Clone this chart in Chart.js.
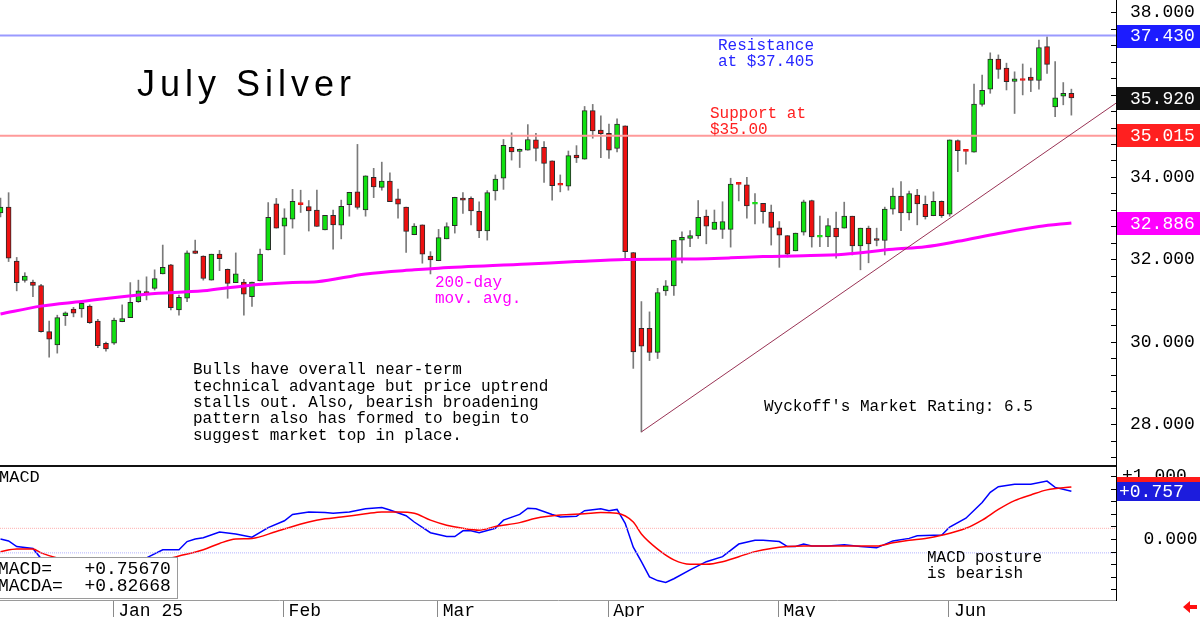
<!DOCTYPE html>
<html>
<head>
<meta charset="utf-8">
<script src="https://cdn.jsdelivr.net/npm/chart.js@4.4.1/dist/chart.umd.min.js"></script>
<style>
  body { margin: 0; background: #fff; width: 1200px; height: 617px; overflow: hidden; position: relative; }
  canvas { position: absolute; left: 0; }
  #price { top: 0; }
  #macd { top: 465px; }
</style>
</head>
<body>
<canvas id="price" width="1200" height="465"></canvas>
<canvas id="macd" width="1200" height="152"></canvas>
<script>
// --- daily July silver candles, one per trading day (index 0 = mid Dec 2024) ---
const opens = [
  33.13, 33.27, 31.96, 31.49, 31.45, 31.37, 30.25, 29.93, 30.64, 30.80,
  30.80, 30.87, 30.51, 29.97, 29.97, 30.49, 30.59, 30.98, 31.22, 31.30,
  31.65, 31.87, 30.78, 31.06, 32.21, 32.08, 31.50, 32.13, 31.76, 31.44,
  31.45, 31.10, 31.48, 32.23, 33.35, 32.81, 32.98, 33.35, 33.28, 33.20,
  32.72, 33.07, 32.83, 33.33, 33.64, 33.20, 33.99, 33.75, 33.90, 33.47,
  33.27, 32.60, 32.84, 32.08, 31.97, 32.50, 32.82, 33.49, 33.48, 33.17,
  32.69, 33.66, 33.97, 34.72, 34.62, 34.65, 34.90, 34.72, 34.39, 33.82,
  33.78, 34.53, 34.43, 35.61, 35.14, 35.06, 34.69, 35.24, 32.17, 30.33,
  30.33, 29.75, 31.24, 31.36, 32.47, 32.51, 32.57, 33.05, 32.73, 32.73,
  32.73, 33.84, 33.81, 33.34, 33.36, 33.15, 32.77, 32.58, 32.21, 32.66,
  33.43, 32.54, 32.55, 32.76, 32.76, 33.05, 32.33, 32.76, 32.51, 32.46,
  33.22, 33.54, 33.13, 33.56, 33.34, 33.06, 33.41, 33.10, 34.88, 34.65,
  34.60, 35.76, 36.13, 36.86, 36.64, 36.32, 36.38, 36.42, 36.34, 37.16,
  35.70, 35.96, 36.03
];
const highs = [
  33.49, 33.62, 32.05, 31.68, 31.50, 31.40, 30.51, 30.65, 30.73, 30.84,
  30.96, 30.90, 30.55, 30.00, 30.58, 30.90, 31.44, 31.50, 31.58, 31.75,
  32.35, 31.88, 31.14, 32.21, 32.47, 32.09, 32.13, 32.22, 31.77, 32.16,
  31.52, 31.45, 32.25, 33.38, 33.48, 33.23, 33.70, 33.68, 33.43, 33.68,
  33.07, 33.20, 33.44, 33.63, 34.79, 34.03, 34.21, 34.36, 34.10, 33.71,
  33.27, 32.87, 32.84, 32.19, 32.73, 32.89, 33.51, 33.62, 33.52, 33.40,
  33.67, 34.05, 34.91, 35.07, 34.68, 35.27, 35.06, 34.86, 34.39, 34.05,
  34.63, 34.76, 35.71, 35.76, 35.48, 35.28, 35.41, 35.24, 32.17, 30.98,
  30.73, 31.30, 31.49, 32.47, 32.67, 32.70, 33.43, 33.20, 33.20, 33.40,
  33.97, 33.85, 33.99, 33.60, 33.36, 33.32, 32.92, 32.58, 32.64, 33.44,
  33.44, 33.05, 32.99, 33.15, 33.39, 33.05, 32.76, 32.81, 32.76, 33.27,
  33.73, 33.89, 33.66, 33.70, 33.54, 33.64, 33.42, 34.90, 34.90, 34.66,
  36.25, 36.47, 37.01, 36.96, 36.76, 36.55, 36.74, 36.64, 37.32, 37.40,
  36.80, 36.29, 36.13
];
const lows = [
  33.03, 31.95, 31.24, 31.45, 31.10, 30.24, 29.63, 29.73, 30.40, 30.61,
  30.60, 30.45, 29.86, 29.78, 29.94, 30.49, 30.59, 30.96, 31.02, 31.26,
  31.65, 30.78, 30.65, 30.98, 32.14, 31.50, 31.50, 31.73, 31.06, 31.44,
  30.65, 30.86, 31.48, 32.23, 32.76, 32.12, 32.76, 33.14, 32.69, 32.80,
  32.72, 32.25, 32.50, 33.05, 33.22, 33.05, 33.50, 33.68, 33.40, 33.00,
  32.17, 32.60, 31.91, 31.65, 31.97, 32.50, 32.64, 33.12, 32.84, 32.53,
  32.47, 33.44, 33.70, 34.41, 34.23, 34.65, 34.39, 33.87, 33.44, 33.64,
  33.68, 34.35, 34.43, 34.94, 34.47, 34.45, 34.61, 32.03, 29.36, 27.82,
  29.55, 29.60, 31.13, 31.13, 31.92, 32.31, 32.51, 32.38, 32.73, 32.51,
  32.30, 33.42, 33.00, 32.86, 32.88, 32.35, 31.81, 32.06, 32.21, 32.59,
  32.30, 32.31, 32.31, 32.03, 32.76, 32.11, 31.75, 31.92, 32.33, 32.11,
  33.10, 32.70, 32.96, 32.84, 32.98, 33.06, 33.02, 33.05, 34.13, 34.31,
  34.60, 35.72, 36.03, 36.39, 36.11, 35.54, 35.99, 36.07, 36.13, 36.51,
  35.46, 35.75, 35.50
];
const closes = [
  33.27, 32.03, 31.44, 31.60, 31.37, 30.25, 30.07, 30.59, 30.71, 30.70,
  30.94, 30.47, 29.91, 29.83, 30.53, 30.57, 30.96, 31.24, 31.15, 31.54,
  31.81, 30.83, 31.08, 32.16, 32.15, 31.54, 32.13, 32.02, 31.42, 31.65,
  31.16, 31.45, 32.13, 33.02, 32.76, 33.01, 33.41, 33.33, 33.18, 32.80,
  33.07, 32.84, 33.29, 33.63, 33.26, 34.03, 33.76, 33.90, 33.40, 33.34,
  32.68, 32.81, 32.13, 31.99, 32.53, 32.80, 33.51, 33.44, 33.18, 32.69,
  33.62, 33.95, 34.77, 34.61, 34.67, 34.91, 34.69, 34.33, 33.79, 33.80,
  34.52, 34.46, 35.61, 35.12, 35.05, 34.65, 35.28, 32.19, 29.76, 29.90,
  29.75, 31.20, 31.36, 32.47, 32.54, 32.58, 33.02, 32.81, 32.91, 32.92,
  33.83, 33.82, 33.30, 33.36, 33.16, 32.78, 32.59, 32.13, 32.64, 33.40,
  32.55, 32.56, 32.82, 32.55, 33.05, 32.33, 32.76, 32.38, 32.46, 33.22,
  33.54, 33.13, 33.60, 33.35, 33.04, 33.41, 33.06, 34.90, 34.64, 34.62,
  35.77, 36.10, 36.86, 36.61, 36.31, 36.38, 36.34, 36.34, 37.14, 36.73,
  35.92, 36.03, 35.92
];

// 200-day moving average, read at these candle indexes
const maIdx = [0, 5, 10, 18, 25, 30, 36, 39, 45, 51, 54, 65, 71, 77, 84, 90, 94, 99, 104, 110, 114, 118, 123, 128, 132];
const maVal = [30.68, 30.87, 30.98, 31.16, 31.24, 31.36, 31.44, 31.46, 31.65, 31.75, 31.79, 31.89, 31.95, 32.00, 32.01,
               32.04, 32.07, 32.09, 32.13, 32.25, 32.31, 32.44, 32.63, 32.80, 32.886];

// MACD (blue) and MACDA signal (red)
const macdIdx = [0, 1, 2, 4, 5, 6, 8, 10, 12, 14, 16, 18, 20, 22, 23, 24, 25, 27, 29, 31, 33, 35, 36, 38, 40, 41, 43, 45, 47, 48,
  50, 51, 53, 55, 56, 57, 58, 59, 61, 62, 64, 65, 66, 68, 69, 71, 72, 74, 75, 76, 77, 78, 79, 80, 81, 82, 83, 85, 87, 89,
  91, 93, 94, 96, 97, 98, 99, 100, 102, 104, 106, 108, 110, 112, 113, 115, 116, 117, 119, 121, 122, 123, 125, 127, 129, 130, 132];
const macdVal = [0.00, -0.03, -0.12, -0.15, -0.31, -0.38, -0.45, -0.50, -0.50, -0.45, -0.38, -0.30, -0.17, -0.17, -0.04, 0.00, 0.02, 0.11, 0.08, 0.03,
  0.18, 0.29, 0.39, 0.43, 0.42, 0.41, 0.43, 0.48, 0.50, 0.46, 0.37, 0.27, 0.10, 0.04, 0.04, 0.13, 0.13, 0.10, 0.17, 0.30,
  0.39, 0.49, 0.48, 0.39, 0.35, 0.36, 0.45, 0.48, 0.45, 0.47, 0.25, -0.13, -0.36, -0.60, -0.66, -0.69, -0.63, -0.49, -0.36, -0.28,
  -0.08, -0.02, -0.02, -0.04, -0.12, -0.12, -0.08, -0.11, -0.11, -0.09, -0.12, -0.14, -0.03, 0.01, 0.05, 0.06, 0.06, 0.19, 0.33, 0.58,
  0.74, 0.83, 0.87, 0.87, 0.92, 0.82, 0.757];
const signalIdx = [0, 2, 4, 5, 7, 9, 12, 15, 18, 21, 22, 25, 27, 29, 31, 34, 38, 40, 42, 45, 47, 49, 51, 53, 55, 57, 59, 61, 64, 66,
  69, 72, 74, 76, 78, 79, 81, 83, 85, 87, 89, 91, 93, 95, 97, 99, 102, 106, 108, 110, 112, 114, 116, 119, 121, 123, 125, 127, 129, 132];
const signalVal = [-0.20, -0.16, -0.16, -0.22, -0.30, -0.34, -0.36, -0.35, -0.32, -0.30, -0.27, -0.17, -0.07, 0.00, 0.01, 0.12, 0.27, 0.32, 0.35, 0.40,
  0.43, 0.43, 0.41, 0.30, 0.22, 0.17, 0.14, 0.20, 0.26, 0.33, 0.38, 0.40, 0.42, 0.41, 0.27, 0.08, -0.16, -0.33, -0.40, -0.40,
  -0.36, -0.28, -0.20, -0.15, -0.12, -0.11, -0.11, -0.11, -0.11, -0.06, -0.02, 0.01, 0.06, 0.17, 0.30, 0.47, 0.61, 0.70, 0.78, 0.827];
const macdReadout = ['MACD=   +0.75670', 'MACDA=  +0.82668'];

// levels and trendline
const resistanceLevel = 37.43;
const supportLevel = 35.0;
const supportTag = 35.015;
const trendIdx = [79, 137.5];
const trendVal = [27.82, 35.79];
const macdRefLevels = [0.17, -0.22];

// month axis
const monthStarts = [14, 35, 54, 75, 96, 117];
const monthLabels = ['Jan 25', 'Feb', 'Mar', 'Apr', 'May', 'Jun'];

const MONO = '"Liberation Mono", "DejaVu Sans Mono", monospace';
const X_MIN = -0.06, X_MAX = 137.5;
const RIGHT_AXIS_W = 84;

const idx = opens.map((_, i) => i);
const up = i => closes[i] >= opens[i];
const doji = i => Math.abs(closes[i] - opens[i]) < 0.04;
const bodyFill = idx.map(i => up(i) ? '#10e010' : '#ee1010');
const bodyEdge = idx.map(i => doji(i) ? bodyFill[i] : '#2a2a2a');
const pts = (xs, ys) => xs.map((x, k) => ({ x: x, y: ys[k] }));

function fixAxis(width, height) {
  return function (scale) {
    if (width) scale.width = width;
    if (height) scale.height = height;
    scale.paddingTop = 0; scale.paddingBottom = 0;
    scale.paddingLeft = 0; scale.paddingRight = 0;
  };
}

function tag(ctx, text, y, bg, x0) {
  ctx.fillStyle = bg;
  ctx.fillRect(x0 + 1, Math.round(y) - 11, 1200 - x0, 23);
  ctx.fillStyle = '#fff';
  ctx.font = '18px ' + MONO;
  ctx.textBaseline = 'middle';
  ctx.textAlign = 'left';
  ctx.fillText(text, 1130, y + 1);
}

function write(ctx, lines, x, y, step, color, font) {
  ctx.fillStyle = color;
  ctx.font = font;
  ctx.textBaseline = 'middle';
  ctx.textAlign = 'left';
  lines.forEach((s, k) => ctx.fillText(s, x, y + k * step));
}

// --- price panel decorations ---
const priceDecor = {
  id: 'priceDecor',
  afterDraw(chart) {
    const { ctx, chartArea, scales: { y } } = chart;
    ctx.save();
    ctx.strokeStyle = '#000';
    ctx.lineWidth = 1;
    for (let v = 27.2; v < 38.05; v += 0.4) {
      const py = Math.round(y.getPixelForValue(v)) + 0.5;
      ctx.beginPath();
      ctx.moveTo(chartArea.right - 5, py);
      ctx.lineTo(chartArea.right, py);
      ctx.stroke();
    }
    tag(ctx, resistanceLevel.toFixed(3), y.getPixelForValue(resistanceLevel), '#1c1cff', chartArea.right);
    tag(ctx, closes[closes.length - 1].toFixed(3), y.getPixelForValue(closes[closes.length - 1]), '#111', chartArea.right);
    tag(ctx, supportTag.toFixed(3), y.getPixelForValue(supportTag), '#ff2020', chartArea.right);
    tag(ctx, maVal[maVal.length - 1].toFixed(3), y.getPixelForValue(maVal[maVal.length - 1]), '#ff00ff', chartArea.right);

    ctx.letterSpacing = '5px';
    write(ctx, ['July Silver'], 137, 86, 0, '#000', '36px "Liberation Sans", Arial, sans-serif');
    ctx.letterSpacing = '0px';
    write(ctx, ['Resistance', 'at $37.405'], 718, 46, 16, '#2626ff', '16px ' + MONO);
    write(ctx, ['Support at', '$35.00'], 710, 114, 16, '#ff2020', '16px ' + MONO);
    write(ctx, ['200-day', 'mov. avg.'], 435, 283, 16, '#ff00ff', '16px ' + MONO);
    write(ctx, [
      'Bulls have overall near-term',
      'technical advantage but price uptrend',
      'stalls out. Also, bearish broadening',
      'pattern also has formed to begin to',
      'suggest market top in place.'
    ], 193, 370, 16.4, '#000', '16px ' + MONO);
    write(ctx, ["Wyckoff's Market Rating: 6.5"], 764, 407, 0, '#000', '16px ' + MONO);
    ctx.restore();
  }
};

new Chart(document.getElementById('price'), {
  type: 'bar',
  data: {
    datasets: [
      {
        label: 'wick',
        data: idx.map(i => ({ x: i, y: [lows[i], highs[i]] })),
        backgroundColor: '#7a7a7a',
        barThickness: 1,
        grouped: false,
        order: 6
      },
      {
        label: 'body',
        data: idx.map(i => ({ x: i, y: [opens[i], closes[i]] })),
        backgroundColor: bodyFill,
        borderColor: bodyEdge,
        borderWidth: 1,
        borderSkipped: false,
        barThickness: 5,
        minBarLength: 2,
        grouped: false,
        order: 5
      },
      {
        type: 'line',
        label: '200-day',
        data: pts(maIdx, maVal),
        borderColor: '#ff00ff',
        borderWidth: 3,
        pointRadius: 0,
        cubicInterpolationMode: 'monotone',
        order: 2
      },
      {
        type: 'line',
        label: 'resistance',
        data: pts([X_MIN, X_MAX], [resistanceLevel, resistanceLevel]),
        borderColor: '#9a9aff',
        borderWidth: 2,
        pointRadius: 0,
        order: 3
      },
      {
        type: 'line',
        label: 'support',
        data: pts([X_MIN, X_MAX], [supportLevel, supportLevel]),
        borderColor: '#ff9a9a',
        borderWidth: 2,
        pointRadius: 0,
        order: 3
      },
      {
        type: 'line',
        label: 'trend',
        data: pts(trendIdx, trendVal),
        borderColor: '#993355',
        borderWidth: 1,
        pointRadius: 0,
        order: 1
      }
    ]
  },
  options: {
    responsive: false,
    animation: false,
    layout: { padding: 0 },
    plugins: { legend: { display: false }, tooltip: { enabled: false } },
    scales: {
      x: {
        type: 'linear', min: X_MIN, max: X_MAX, offset: false,
        display: false, grid: { offset: false }
      },
      y: {
        position: 'right', min: 27.018, max: 38.291,
        afterBuildTicks: s => { s.ticks = [28, 30, 32, 34, 36, 38].map(v => ({ value: v })); },
        afterFit: fixAxis(RIGHT_AXIS_W, 0),
        ticks: {
          padding: 14, color: '#000',
          font: { family: MONO, size: 18 },
          callback: v => v.toFixed(3)
        },
        grid: { drawOnChartArea: false, drawTicks: false },
        border: { display: true, color: '#000', width: 1 }
      }
    }
  },
  plugins: [priceDecor]
});

// --- MACD panel decorations ---
const macdDecor = {
  id: 'macdDecor',
  afterDraw(chart) {
    const { ctx, chartArea, scales: { y } } = chart;
    ctx.save();
    // panel separator
    ctx.fillStyle = '#111';
    ctx.fillRect(0, 0, chartArea.right, 2);
    ctx.strokeStyle = '#000';
    ctx.lineWidth = 1;
    for (let v = -0.8; v < 1.05; v += 0.2) {
      const py = Math.round(y.getPixelForValue(v)) + 0.5;
      ctx.beginPath();
      ctx.moveTo(chartArea.right - 5, py);
      ctx.lineTo(chartArea.right, py);
      ctx.stroke();
    }
    const lastSig = signalVal[signalVal.length - 1];
    const lastMacd = macdVal[macdVal.length - 1];
    ctx.fillStyle = '#ff1a1a';
    ctx.fillRect(chartArea.right + 1, Math.round(y.getPixelForValue(lastSig)) - 10, 200, 20);
    ctx.fillStyle = '#1c1cdd';
    ctx.fillRect(chartArea.right + 1, Math.round(y.getPixelForValue(lastMacd)) - 9, 200, 19);
    ctx.fillStyle = '#fff';
    ctx.font = '18px ' + MONO;
    ctx.textBaseline = 'middle';
    ctx.fillText('+' + lastMacd.toFixed(3), 1119, y.getPixelForValue(lastMacd) + 1);

    // readout box
    ctx.fillStyle = '#fff';
    ctx.fillRect(-1, 92, 179, 41);
    ctx.strokeStyle = '#9a9a9a';
    ctx.strokeRect(-0.5, 92.5, 178, 41);
    write(ctx, macdReadout, -2, 104, 17, '#000', '18px ' + MONO);
    write(ctx, ['MACD'], -1, 12, 0, '#000', '17px ' + MONO);
    write(ctx, ['MACD posture', 'is bearish'], 927, 93, 16, '#000', '16px ' + MONO);

    // red arrow bottom right
    ctx.fillStyle = '#ff1010';
    ctx.beginPath();
    ctx.moveTo(1183, 142);
    ctx.lineTo(1190, 136);
    ctx.lineTo(1190, 140);
    ctx.lineTo(1197, 140);
    ctx.lineTo(1197, 144);
    ctx.lineTo(1190, 144);
    ctx.lineTo(1190, 148);
    ctx.closePath();
    ctx.fill();
    ctx.restore();
  }
};

new Chart(document.getElementById('macd'), {
  type: 'line',
  data: {
    datasets: [
      {
        label: 'ref+',
        data: pts([X_MIN, X_MAX], [macdRefLevels[0], macdRefLevels[0]]),
        borderColor: '#ffb0b0', borderWidth: 1, borderDash: [1, 1], pointRadius: 0
      },
      {
        label: 'ref-',
        data: pts([X_MIN, X_MAX], [macdRefLevels[1], macdRefLevels[1]]),
        borderColor: '#b0b0ff', borderWidth: 1, borderDash: [1, 1], pointRadius: 0
      },
      {
        label: 'MACDA',
        data: pts(signalIdx, signalVal),
        borderColor: '#ff0000', borderWidth: 1.5, pointRadius: 0,
        cubicInterpolationMode: 'monotone'
      },
      {
        label: 'MACD',
        data: pts(macdIdx, macdVal),
        borderColor: '#0000ff', borderWidth: 1.5, pointRadius: 0
      }
    ]
  },
  options: {
    responsive: false,
    animation: false,
    layout: { padding: 0 },
    plugins: { legend: { display: false }, tooltip: { enabled: false } },
    scales: {
      x: {
        type: 'linear', min: X_MIN, max: X_MAX, position: 'bottom',
        afterBuildTicks: s => { s.ticks = monthStarts.map(v => ({ value: v - 0.1 })); },
        afterFit: fixAxis(0, 17),
        ticks: {
          autoSkip: false, maxRotation: 0, align: 'start', labelOffset: 5, padding: -17,
          color: '#000', font: { family: MONO, size: 18 },
          callback: (v, k) => monthLabels[k]
        },
        grid: { drawOnChartArea: false, tickLength: 17, color: '#8a8a8a' },
        border: { display: true, color: '#9a9a9a' }
      },
      y: {
        position: 'right', min: -0.968, max: 1.175,
        afterBuildTicks: s => { s.ticks = [0, 1].map(v => ({ value: v })); },
        afterFit: fixAxis(RIGHT_AXIS_W, 0),
        ticks: {
          padding: 6, color: '#000',
          font: { family: MONO, size: 18 },
          callback: v => v > 0 ? '+' + v.toFixed(3) : '  ' + v.toFixed(3)
        },
        grid: { drawOnChartArea: false, drawTicks: false },
        border: { display: true, color: '#000', width: 1 }
      }
    }
  },
  plugins: [macdDecor]
});
</script>
</body>
</html>
